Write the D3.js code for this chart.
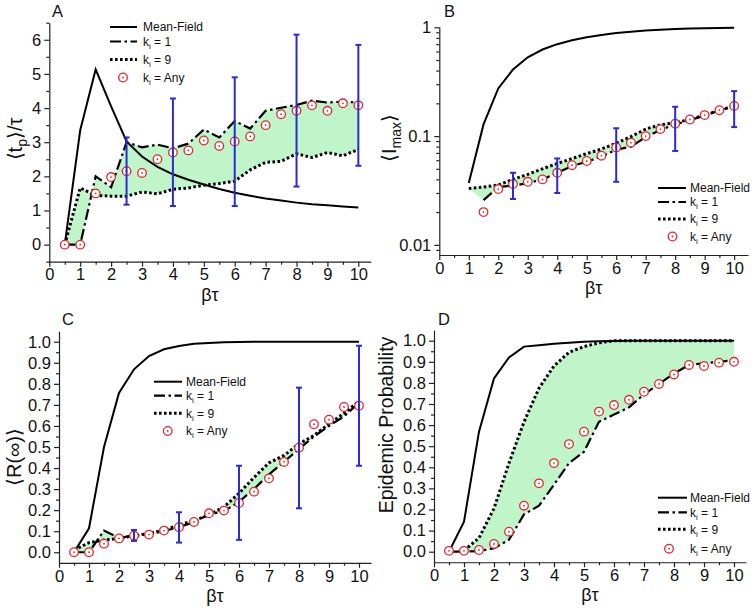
<!DOCTYPE html>
<html><head><meta charset="utf-8">
<script src="https://cdn.jsdelivr.net/npm/d3@7"></script>
<style>
body{margin:0;background:#fff;}
svg{display:block;font-family:"Liberation Sans",Arial,Helvetica,sans-serif;}
</style></head><body>
<svg id="chart" width="755" height="610"></svg>
<script>
// ---------- data ----------
const betaTau = [0.5,1,1.5,2,2.5,3,3.5,4,4.5,5,5.5,6,6.5,7,7.5,8,8.5,9,9.5,10];
const xTicks = [0,1,2,3,4,5,6,7,8,9,10];
const errX = [2.5,4,6,8,10];

// Panel A: <t_p>/tau
const mfA  = [0,3.35,5.13,4.05,3.02,2.58,2.28,2.06,1.9,1.76,1.63,1.52,1.43,1.35,1.29,1.23,1.18,1.15,1.12,1.09];
const k1A  = [0,0,2.0,1.68,3.0,2.85,2.93,2.82,2.96,3.37,3.14,3.62,3.4,3.92,4.01,4.09,4.22,4.16,4.19,4.16];
const k9A  = [0,1.66,1.44,1.42,1.42,1.54,1.49,1.62,1.66,1.74,1.79,1.86,2.19,2.41,2.44,2.66,2.55,2.7,2.6,2.79];
const anyA = [0,0,1.5,1.98,2.15,2.1,2.5,2.7,2.76,3.05,2.89,3.02,3.17,3.5,3.82,3.92,4.08,3.92,4.14,4.08];
const errLoA = [1.17,1.13,1.13,1.70,2.31];
const errHiA = [3.14,4.28,4.90,6.15,5.85];
const yTicksA = [0,1,2,3,4,5,6];

// Panel B: <I_max> (log)
const mfB  = [null,0.037,0.128,0.274,0.41,0.53,0.625,0.70,0.76,0.81,0.85,0.885,0.91,0.935,0.95,0.965,0.975,0.982,0.988,0.99];
const k1B  = [null,null,0.0258,0.034,0.035,0.037,0.040,0.046,0.053,0.058,0.065,0.075,0.080,0.098,0.114,0.128,0.140,0.155,0.172,0.188];
const k9B  = [null,0.033,0.034,0.0355,0.040,0.0445,0.050,0.056,0.062,0.069,0.076,0.086,0.099,0.116,0.127,0.133,0.142,0.156,0.172,0.19];
const anyB = [null,null,0.020,0.0326,0.0362,0.038,0.040,0.046,0.054,0.059,0.066,0.0787,0.087,0.100,0.116,0.130,0.142,0.156,0.173,0.189];
const errLoB = [0.0264,0.030,0.038,0.073,0.121];
const errHiB = [0.046,0.0623,0.118,0.186,0.259];
const yTicksB = [0.01,0.1,1];
const yTickLabelsB = ["0.01","0.1","1"];

// Panel C: <R(inf)>
const mfC  = [0,0.114,0.50,0.757,0.869,0.932,0.964,0.98,0.99,0.994,0.997,0.999,1,1,1,1,1,1,1,1];
const k1C  = [0,0,0.103,0.068,0.08,0.085,0.10,0.12,0.143,0.18,0.195,0.24,0.30,0.37,0.43,0.49,0.55,0.60,0.645,0.71];
const k9C  = [0.01,0.046,0.058,0.066,0.078,0.09,0.106,0.13,0.15,0.178,0.215,0.28,0.355,0.425,0.46,0.515,0.555,0.61,0.66,0.718];
const anyC = [0,0,0.041,0.066,0.079,0.084,0.103,0.119,0.144,0.185,0.198,0.234,0.288,0.351,0.429,0.497,0.608,0.63,0.69,0.696];
const errLoC = [0.054,0.046,0.059,0.209,0.411];
const errHiC = [0.106,0.19,0.411,0.782,0.981];
const yTicksCD = [0,0.1,0.2,0.3,0.4,0.5,0.6,0.7,0.8,0.9,1.0];

// Panel D: Epidemic probability
const mfD  = [0,0.142,0.569,0.821,0.921,0.972,0.978,0.985,0.99,0.995,0.997,0.999,1,1,1,1,1,1,1,1];
const k1D  = [0,0,0.003,0.016,0.057,0.177,0.218,0.318,0.42,0.474,0.616,0.65,0.684,0.746,0.795,0.845,0.885,0.893,0.90,0.908];
const k9D  = [null,0.005,0.065,0.205,0.42,0.615,0.775,0.88,0.945,0.972,0.99,1.0,1,1,1,1,1,1,1,1];
const anyD = [0.004,0.004,0.008,0.037,0.095,0.218,0.324,0.42,0.51,0.569,0.664,0.695,0.72,0.758,0.795,0.84,0.885,0.88,0.896,0.90];

const legendLabels = ["Mean-Field","k_i = 1","k_i = 9","k_i = Any"];

// ---------- drawing ----------
const svg = d3.select("#chart");
const FILL = "#bff5c9", BLUE = "#2b2bd4", RED = "#e5262b";

function drawPanel(p) {
  const x = d3.scaleLinear().domain([0, p.xMax]).range([p.left, p.right]);
  const y = (p.log ? d3.scaleLog() : d3.scaleLinear()).domain(p.yDomain).range([p.bottom, p.top]);
  const g = svg.append("g");
  const pts = arr => betaTau.map((b,i)=>[b, arr[i]]).filter(d=>d[1]!=null);
  const line = d3.line().x(d=>x(d[0])).y(d=>y(d[1]));
  const k9 = pts(p.k9), k1 = pts(p.k1);

  g.append("path").attr("d", line(k9.concat(k1.slice().reverse())) + "Z")
    .attr("fill", FILL).attr("stroke","none");

  g.append("path").attr("d", line(pts(p.mf))).attr("fill","none")
    .attr("stroke","#000").attr("stroke-width",2);
  g.append("path").attr("d", line(k1)).attr("fill","none")
    .attr("stroke","#000").attr("stroke-width",2.2).attr("stroke-dasharray","11,3.5,2.5,3.5");
  g.append("path").attr("d", line(k9)).attr("fill","none")
    .attr("stroke","#000").attr("stroke-width",3).attr("stroke-dasharray","2.6,2.4");

  const any = pts(p.any);
  const cg = g.append("g");
  cg.selectAll("circle.o").data(any).join("circle").attr("class","o")
    .attr("cx",d=>x(d[0])).attr("cy",d=>y(d[1])).attr("r",4.3)
    .attr("fill","#fff").attr("stroke",RED).attr("stroke-width",1.3);
  cg.selectAll("circle.c").data(any).join("circle").attr("class","c")
    .attr("cx",d=>x(d[0])).attr("cy",d=>y(d[1])).attr("r",0.9).attr("fill",RED);

  if (p.errLo) {
    const eb = errX.map((v,i)=>({x:v, lo:p.errLo[i], hi:p.errHi[i]}));
    const eg = g.append("g").attr("stroke",BLUE).attr("stroke-width",2);
    eg.selectAll("line.v").data(eb).join("line").attr("class","v")
      .attr("x1",d=>x(d.x)).attr("x2",d=>x(d.x)).attr("y1",d=>y(d.lo)).attr("y2",d=>y(d.hi));
    eg.selectAll("line.t").data(eb).join("line").attr("class","t")
      .attr("x1",d=>x(d.x)-3).attr("x2",d=>x(d.x)+3).attr("y1",d=>y(d.hi)).attr("y2",d=>y(d.hi));
    eg.selectAll("line.b").data(eb).join("line").attr("class","b")
      .attr("x1",d=>x(d.x)-3).attr("x2",d=>x(d.x)+3).attr("y1",d=>y(d.lo)).attr("y2",d=>y(d.lo));
  }

  // axes
  const xMinor = d3.range(0.5, p.xMax, 1);
  const ax = g.append("g").attr("transform",`translate(0,${p.bottom})`);
  ax.call(d3.axisBottom(x).tickValues(xTicks).tickSize(5).tickSizeOuter(0).tickPadding(2).tickFormat(d3.format("d")));
  const axm = g.append("g").attr("transform",`translate(0,${p.bottom})`);
  axm.call(d3.axisBottom(x).tickValues(xMinor).tickSize(3).tickSizeOuter(0).tickFormat(""));
  axm.select(".domain").remove();

  const ay = g.append("g").attr("transform",`translate(${p.left},0)`);
  ay.call(d3.axisLeft(y).tickValues(p.yTicks).tickSize(5).tickSizeOuter(0).tickPadding(3)
    .tickFormat((d,i)=>p.yLabels ? p.yLabels[i] : p.yFmt(d)));
  const aym = g.append("g").attr("transform",`translate(${p.left},0)`);
  aym.call(d3.axisLeft(y).tickValues(p.yMinor).tickSize(3).tickSizeOuter(0).tickFormat(""));
  aym.select(".domain").remove();

  g.selectAll(".domain, .tick line").attr("stroke","#222").attr("stroke-width",1.2);
  g.selectAll(".tick text").attr("font-size",16.5).attr("fill","#111")
    .attr("font-family",'"Liberation Sans",Arial,sans-serif');

  // x title
  g.append("text").attr("x",(p.left+p.right)/2).attr("y",p.bottom+39)
    .attr("text-anchor","middle").attr("font-size",18).attr("fill","#111").text("βτ");

  // y title
  const yt = g.append("text").attr("transform",`translate(${p.yTitleX},${p.yTitleY}) rotate(-90)`)
    .attr("text-anchor","middle").attr("dy","0.35em").attr("font-size",p.yTitleSize).attr("fill","#111");
  p.yTitle.forEach(s => {
    const t = yt.append("tspan").text(s.t);
    if (s.sub) t.attr("font-size", p.yTitleSize*0.7).attr("dy", 5);
    if (s.up) t.attr("dy", -5);
  });

  // panel letter
  g.append("text").attr("x",p.letterX).attr("y",p.letterY).attr("font-size",16.5).attr("fill","#111").text(p.letter);

  // legend
  const L = p.legend;
  const lg = g.append("g");
  const styles = [
    {w:2, dash:null},
    {w:2.2, dash:"11,3.5,2.5,3.5"},
    {w:3, dash:"2.6,2.4"}
  ];
  legendLabels.forEach((lab,i) => {
    const yy = L.rows[i];
    if (i < 3) {
      lg.append("line").attr("x1",L.x0).attr("x2",L.x1).attr("y1",yy).attr("y2",yy)
        .attr("stroke","#000").attr("stroke-width",styles[i].w)
        .attr("stroke-dasharray",styles[i].dash);
    } else {
      lg.append("circle").attr("cx",L.cx).attr("cy",yy).attr("r",4.3).attr("fill","#fff")
        .attr("stroke",RED).attr("stroke-width",1.3);
      lg.append("circle").attr("cx",L.cx).attr("cy",yy).attr("r",0.9).attr("fill",RED);
    }
    const t = lg.append("text").attr("x",L.tx).attr("y",yy).attr("dy","0.35em")
      .attr("font-size",12).attr("fill","#111");
    if (lab.startsWith("k_i")) {
      t.append("tspan").text("k");
      t.append("tspan").text("i").attr("font-size",8).attr("dy",3);
      t.append("tspan").text(lab.slice(3)).attr("dy",-3);
    } else t.text(lab);
  });
}

function logMinor(lo, hi) {
  const out = [];
  for (let e = -3; e <= 0; e++) for (let m = 2; m <= 9; m++) {
    const v = m * Math.pow(10, e);
    if (v >= lo && v <= hi) out.push(v);
  }
  return out;
}

drawPanel({
  letter:"A", letterX:52, letterY:17,
  left:49.3, right:370.7, xMax:10.4, top:22.7, bottom:261.7, yDomain:[-0.5,6.5],
  yTicks:yTicksA, yMinor:d3.range(-0.5,6.6,1), yFmt:d3.format("d"),
  mf:mfA, k1:k1A, k9:k9A, any:anyA, errLo:errLoA, errHi:errHiA,
  yTitle:[{t:"⟨t"},{t:"p",sub:true},{t:"⟩/τ",up:true}], yTitleX:15, yTitleY:139, yTitleSize:20,
  legend:{x0:110, x1:137, tx:143, cx:123, rows:[27,41.5,59.5,77.5]}
});
drawPanel({
  letter:"B", letterX:444, letterY:17,
  left:439.3, right:748, xMax:10.47, top:26.7, bottom:255, yDomain:[0.00807,1.013], log:true,
  yTicks:yTicksB, yLabels:yTickLabelsB, yMinor:logMinor(0.00807,1.013),
  mf:mfB, k1:k1B, k9:k9B, any:anyB, errLo:errLoB, errHi:errHiB,
  yTitle:[{t:"⟨I"},{t:"max",sub:true},{t:"⟩",up:true}], yTitleX:389, yTitleY:138, yTitleSize:20,
  legend:{x0:658, x1:686, tx:690, cx:672.5, rows:[188,202,219,236.5]}
});
drawPanel({
  letter:"C", letterX:62, letterY:325,
  left:59, right:371, xMax:10.4, top:331.2, bottom:562.8, yDomain:[-0.05,1.05],
  yTicks:yTicksCD, yMinor:d3.range(0.05,1.0,0.1), yFmt:d3.format(".1f"),
  mf:mfC, k1:k1C, k9:k9C, any:anyC, errLo:errLoC, errHi:errHiC,
  yTitle:[{t:"⟨R(∞)⟩"}], yTitleX:13.5, yTitleY:457, yTitleSize:20,
  legend:{x0:154, x1:182, tx:186, cx:167.7, rows:[381.7,395.7,413.3,431]}
});
drawPanel({
  letter:"D", letterX:438, letterY:325,
  left:434, right:746, xMax:10.4, top:330.15, bottom:562.25, yDomain:[-0.05,1.05],
  yTicks:yTicksCD, yMinor:d3.range(0.05,1.0,0.1), yFmt:d3.format(".1f"),
  mf:mfD, k1:k1D, k9:k9D, any:anyD,
  yTitle:[{t:"Epidemic Probability"}], yTitleX:386.5, yTitleY:425, yTitleSize:19.5,
  legend:{x0:658, x1:687, tx:690, cx:669, rows:[497.7,512.3,529.3,548.7]}
});
</script>
</body></html>
